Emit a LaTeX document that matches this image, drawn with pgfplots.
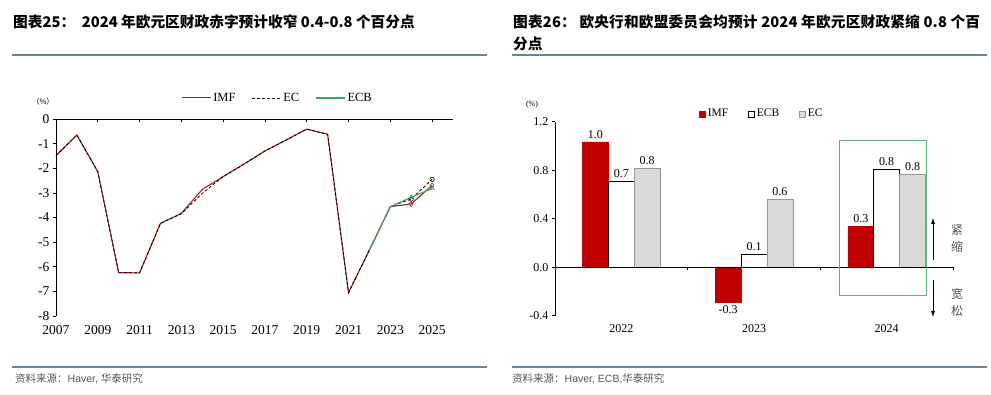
\documentclass[border=0pt]{standalone}
\usepackage{fontspec}
\setmainfont{Liberation Serif}
\newfontfamily\cjk{Noto Sans CJK SC}
\newfontfamily\lsans{Liberation Sans}
\usepackage{pgfplots}
\pgfplotsset{compat=1.18}
\usetikzlibrary{arrows.meta}
\definecolor{imfred}{RGB}{168,30,36}
\definecolor{ecbgreen}{RGB}{60,170,110}
\definecolor{barred}{RGB}{192,0,0}
\definecolor{ecgray}{RGB}{217,217,217}
\definecolor{ecedge}{RGB}{150,150,150}
\definecolor{rulec}{RGB}{108,132,151}
\definecolor{boxgreen}{RGB}{90,180,130}
\definecolor{srcgray}{RGB}{85,85,85}
\def\sp#1{\ifx#1\relax\else\hfil#1\expandafter\sp\fi}
\begin{document}
\begin{tikzpicture}[x=1pt,y=1pt]
\path[use as bounding box] (0,0) rectangle (991,-395);
% titles and rules
\node[anchor=base west,inner sep=0pt] at (13,-27.5) {\cjk\bfseries\fontsize{14.7}{14.7}\selectfont 图表25：\ \ 2024 年欧元区财政赤字预计收窄 0.4-0.8 个百分点};
\node[anchor=base west,inner sep=0pt] at (513,-27.5) {\cjk\bfseries\fontsize{14.7}{14.7}\selectfont\makebox[467pt][s]{图\sp 表26：~欧央行和欧盟委员会均预计~2024~年欧元区财政紧缩~0.8~个百\relax}};
\node[anchor=base west,inner sep=0pt] at (513,-50) {\cjk\bfseries\fontsize{14.7}{14.7}\selectfont 分点};
\draw[rulec,line width=2.2pt] (12,-55) -- (487,-55);
\draw[rulec,line width=2.2pt] (512,-55) -- (987,-55);
\draw[rulec,line width=2.2pt] (12,-367) -- (487,-367);
\draw[rulec,line width=2.2pt] (512,-367) -- (987,-367);
\node[anchor=west,inner sep=0pt,text=srcgray] at (15,-379) {\cjk\fontsize{10.5}{10.5}\selectfont 资料来源：{\lsans Haver, }华泰研究};
\node[anchor=west,inner sep=0pt,text=srcgray] at (512,-379) {\cjk\fontsize{10.5}{10.5}\selectfont 资料来源：{\lsans Haver, ECB,}华泰研究};
% units
\node[inner sep=0pt] at (43,-102) {\cjk\fontsize{7.5}{7.5}\selectfont （\%）};
\node[inner sep=0pt] at (532,-105) {\fontsize{8}{8}\selectfont (\%)};

% ---------- left chart ----------
\begin{axis}[
  at={(56pt,-316pt)}, anchor=south west, scale only axis,
  width=397pt, height=197pt,
  xmin=2007, xmax=2026, ymin=-8, ymax=0,
  axis y line*=left, axis x line*=bottom, x axis line style={draw=none},
  xtick={2007,2009,...,2025}, xtick style={draw=none},
  ytick={-8,-7,...,0}, ytick style={black,line width=0.6pt},
  y axis line style={line width=0.7pt},
  tick align=outside, major tick length=3pt,
  /pgf/number format/assume math mode=true,
  x tick label style={/pgf/number format/1000 sep={},yshift=-3pt},
  ticklabel style={font=\fontsize{13.5}{13.5}\selectfont},
  clip=false,
  legend style={draw=none,fill=none,at={(0.558,1.107)},anchor=center,
    font=\fontsize{12.5}{12.5}\selectfont, inner sep=0pt,
    /tikz/every even column/.append style={column sep=14pt}},
  legend columns=3,
  legend image code/.code={\draw[#1] (0pt,0pt) -- (29pt,0pt);},
]
\addplot[imfred,line width=1.1pt,mark=diamond,mark size=2.5pt,mark options={solid,fill=white,line width=0.6pt},mark indices={18,19}] coordinates {
(2007,-1.49)(2008,-0.65)(2009,-2.14)(2010,-6.24)(2011,-6.25)(2012,-4.24)(2013,-3.83)(2014,-2.86)(2015,-2.34)(2016,-1.83)(2017,-1.30)(2018,-0.86)(2019,-0.41)(2020,-0.62)(2021,-7.05)(2022,-5.32)(2023,-3.56)(2024,-3.45)(2025,-2.70)};
\addlegendentry{IMF}
\addplot[black,line width=0.8pt,dash pattern=on 3pt off 2pt,mark=o,mark size=2.2pt,mark options={solid,fill=white,line width=0.6pt},mark indices={18,19}] coordinates {
(2007,-1.49)(2008,-0.65)(2009,-2.14)(2010,-6.24)(2011,-6.25)(2012,-4.24)(2013,-3.85)(2014,-3.02)(2015,-2.34)(2016,-1.83)(2017,-1.30)(2018,-0.86)(2019,-0.41)(2020,-0.62)(2021,-7.05)(2022,-5.32)(2023,-3.56)(2024,-3.25)(2025,-2.45)};
\addlegendentry{EC}
\addplot[ecbgreen,line width=1.2pt,mark=triangle,mark size=2.5pt,mark options={solid,fill=white,line width=0.6pt},mark indices={3,4}] coordinates {
(2022,-5.32)(2023,-3.56)(2024,-3.18)(2025,-2.82)};
\addlegendentry{ECB}
\draw[black,line width=0.7pt] (axis cs:2007,0) -- (axis cs:2026,0);
\draw[black,line width=0.6pt] (axis cs:2009,0) -- ++(0pt,-3pt);
\draw[black,line width=0.6pt] (axis cs:2011,0) -- ++(0pt,-3pt);
\draw[black,line width=0.6pt] (axis cs:2013,0) -- ++(0pt,-3pt);
\draw[black,line width=0.6pt] (axis cs:2015,0) -- ++(0pt,-3pt);
\draw[black,line width=0.6pt] (axis cs:2017,0) -- ++(0pt,-3pt);
\draw[black,line width=0.6pt] (axis cs:2019,0) -- ++(0pt,-3pt);
\draw[black,line width=0.6pt] (axis cs:2021,0) -- ++(0pt,-3pt);
\draw[black,line width=0.6pt] (axis cs:2023,0) -- ++(0pt,-3pt);
\draw[black,line width=0.6pt] (axis cs:2025,0) -- ++(0pt,-3pt);
\end{axis}

% ---------- right chart ----------
\begin{axis}[
  at={(555pt,-315.7pt)}, anchor=south west, scale only axis,
  width=398pt, height=194pt,
  xmin=-0.5, xmax=2.5, ymin=-0.4, ymax=1.2,
  axis y line*=left, axis x line*=bottom, x axis line style={draw=none},
  xtick={0,1,2}, xticklabels={2022,2023,2024}, xtick style={draw=none},
  ytick={-0.4,0,0.4,0.8,1.2}, ytick style={black,line width=0.6pt},
  y axis line style={line width=0.7pt},
  yticklabel style={/pgf/number format/.cd,fixed,fixed zerofill,precision=1},
  tick align=outside, major tick length=3pt,
  /pgf/number format/assume math mode=true,
  ticklabel style={font=\fontsize{12}{12}\selectfont},
  x tick label style={yshift=-2pt},
  clip=false,
  legend style={draw=none,fill=none,at={(0.52,1.04)},anchor=center,
    font=\fontsize{11.5}{11.5}\selectfont, inner sep=0pt,
    /tikz/every even column/.append style={column sep=18pt}},
  legend columns=3,
  nodes near coords={\pgfmathprintnumber[fixed,fixed zerofill,precision=1]{\pgfplotspointmeta}},
  every node near coord/.append style={font=\fontsize{12}{12}\selectfont,black},
]
\addplot[ybar,bar width=25.8pt,bar shift=-25.9pt,fill=barred,draw=barred,
  every node near coord/.append style={xshift=-25.9pt},
  legend image code/.code={\fill[barred] (0pt,-3pt) rectangle (6pt,3pt);}] coordinates {(0,1.034)(1,-0.289)(2,0.338)};
\addlegendentry{IMF}
\addplot[ybar,bar width=25.8pt,bar shift=0pt,fill=white,draw=black,line width=0.8pt,
  legend image code/.code={\draw[black,line width=0.6pt,fill=white] (0pt,-3pt) rectangle (6pt,3pt);}] coordinates {(0,0.704)(1,0.104)(2,0.803)};
\addlegendentry{ECB}
\addplot[ybar,bar width=25.8pt,bar shift=25.9pt,fill=ecgray,draw=ecedge,line width=0.6pt,
  every node near coord/.append style={xshift=25.9pt},
  legend image code/.code={\draw[ecedge,line width=0.6pt,fill=ecgray] (0pt,-3pt) rectangle (6pt,3pt);}] coordinates {(0,0.814)(1,0.561)(2,0.764)};
\addlegendentry{EC}
\draw[black,line width=0.7pt] (axis cs:-0.5,0) -- (axis cs:2.5,0);
\draw[black,line width=0.6pt] (axis cs:0.5,0) -- ++(0pt,-3pt);
\draw[black,line width=0.6pt] (axis cs:1.5,0) -- ++(0pt,-3pt);
\draw[black,line width=0.6pt] (axis cs:2.5,0) -- ++(0pt,-3pt);
\draw[boxgreen,line width=1.2pt] (axis cs:1.6425,1.047) rectangle (axis cs:2.30,-0.234);
\end{axis}
% tightening / loosening annotation
\draw[black,line width=0.6pt,-{Latex[length=6pt,width=4pt]}] (933,-260) -- (933,-218);
\draw[black,line width=0.6pt,-{Latex[length=6pt,width=4pt]}] (933,-280) -- (933,-317);
\node[inner sep=0pt,align=center,text=srcgray,font=\cjk\fontsize{12}{17}\selectfont] at (957,-239) {紧\\缩};
\node[inner sep=0pt,align=center,text=srcgray,font=\cjk\fontsize{12}{17}\selectfont] at (957,-302) {宽\\松};
\end{tikzpicture}
\end{document}
